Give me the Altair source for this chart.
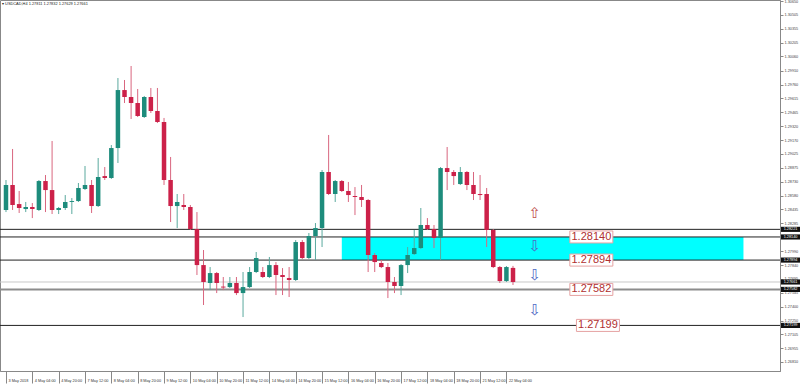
import altair as alt
import pandas as pd

# ---- candle data (USDCAD H4, bar index 0 = 3 May 2018 12:00) ----
opens = [1.28427, 1.28693, 1.28490, 1.28437, 1.28459, 1.28427, 1.28735, 1.28639, 1.28427, 1.28448,
         1.28512, 1.28522, 1.28650, 1.28693, 1.28469, 1.28788, 1.28767, 1.29086, 1.29703, 1.29629,
         1.29565, 1.29416, 1.29629, 1.29480, 1.29363, 1.28746, 1.28469, 1.28480, 1.28459, 1.28224,
         1.27841, 1.27650, 1.27756, 1.27612, 1.27607, 1.27650, 1.27543, 1.27607, 1.27767, 1.27767,
         1.27714, 1.27841, 1.27735, 1.27703, 1.27682, 1.28086, 1.27916, 1.28150, 1.28235, 1.28831,
         1.28597, 1.28735, 1.28629, 1.28576, 1.28565, 1.28533, 1.27948, 1.27863, 1.27820, 1.27661,
         1.27618, 1.27841, 1.27958, 1.28022, 1.28267, 1.28224, 1.28129, 1.28873, 1.28831, 1.28703,
         1.28831, 1.28693, 1.28597, 1.28597, 1.28214, 1.27820, 1.27671, 1.27811]
highs = [1.28746, 1.29076, 1.28629, 1.28512, 1.28501, 1.28746, 1.28799, 1.29161, 1.28459, 1.28586,
         1.28554, 1.28714, 1.28895, 1.28746, 1.28980, 1.28884, 1.29118, 1.29831, 1.29810, 1.29959,
         1.29714, 1.29640, 1.29725, 1.29725, 1.29406, 1.28991, 1.28597, 1.28597, 1.28480, 1.28405,
         1.28001, 1.27820, 1.27767, 1.27714, 1.27714, 1.27714, 1.27767, 1.27820, 1.27980, 1.27820,
         1.27927, 1.27873, 1.27809, 1.27820, 1.28107, 1.28107, 1.28182, 1.28288, 1.28852, 1.29225,
         1.28746, 1.28746, 1.28725, 1.28671, 1.28693, 1.28543, 1.27969, 1.27895, 1.27863, 1.27714,
         1.27852, 1.28033, 1.28214, 1.28448, 1.28341, 1.28267, 1.28884, 1.29097, 1.28852, 1.28884,
         1.28841, 1.28831, 1.28799, 1.28661, 1.28224, 1.27831, 1.27831, 1.27832]
lows = [1.28405, 1.28427, 1.28395, 1.28405, 1.28341, 1.28416, 1.28405, 1.28384, 1.28384, 1.28427,
        1.28384, 1.28512, 1.28639, 1.28395, 1.28459, 1.28746, 1.28757, 1.28927, 1.29565, 1.29395,
        1.29416, 1.29406, 1.29459, 1.29352, 1.28693, 1.28299, 1.28235, 1.28427, 1.28214, 1.27735,
        1.27416, 1.27575, 1.27543, 1.27575, 1.27597, 1.27522, 1.27288, 1.27597, 1.27756, 1.27703,
        1.27703, 1.27522, 1.27522, 1.27501, 1.27671, 1.27905, 1.27905, 1.27895, 1.28033, 1.28586,
        1.28512, 1.28618, 1.28512, 1.28373, 1.28459, 1.27767, 1.27767, 1.27809, 1.27490, 1.27543,
        1.27522, 1.27756, 1.27948, 1.28012, 1.28214, 1.28022, 1.27895, 1.28639, 1.28693, 1.28693,
        1.28639, 1.28533, 1.28533, 1.28033, 1.27809, 1.27650, 1.27661, 1.27629]
closes = [1.28693, 1.28480, 1.28448, 1.28459, 1.28437, 1.28735, 1.28639, 1.28427, 1.28448, 1.28512,
          1.28522, 1.28661, 1.28693, 1.28469, 1.28778, 1.28767, 1.29086, 1.29703, 1.29629, 1.29565,
          1.29427, 1.29629, 1.29480, 1.29363, 1.28746, 1.28469, 1.28512, 1.28459, 1.28224, 1.27841,
          1.27661, 1.27756, 1.27650, 1.27602, 1.27650, 1.27543, 1.27607, 1.27767, 1.27916, 1.27714,
          1.27841, 1.27735, 1.27714, 1.27682, 1.28086, 1.27916, 1.28150, 1.28235, 1.28831, 1.28597,
          1.28735, 1.28629, 1.28586, 1.28565, 1.28533, 1.27948, 1.27873, 1.27820, 1.27661, 1.27618,
          1.27841, 1.27948, 1.28022, 1.28267, 1.28224, 1.28129, 1.28873, 1.28831, 1.28788, 1.28831,
          1.28693, 1.28597, 1.28586, 1.28214, 1.27820, 1.27671, 1.27820, 1.27661]

# ---- axis labels ----
time_tick_bars = [0, 4, 8, 12, 16, 20, 24, 28, 32, 36, 40, 44, 48, 52, 56, 60, 64, 68, 72, 76]
time_tick_labels = ["3 May 2018", "4 May 04:00", "4 May 20:00", "7 May 12:00", "8 May 04:00",
                    "8 May 20:00", "9 May 12:00", "10 May 04:00", "10 May 20:00", "11 May 12:00",
                    "14 May 04:00", "14 May 20:00", "15 May 12:00", "16 May 04:00", "16 May 20:00",
                    "17 May 12:00", "18 May 04:00", "18 May 20:00", "21 May 12:00", "22 May 04:00"]
price_ticks = [1.30650, 1.30505, 1.30355, 1.30205, 1.30060, 1.29910, 1.29760, 1.29615, 1.29465,
               1.29320, 1.29170, 1.29025, 1.28875, 1.28730, 1.28580, 1.28435, 1.28285, 1.27990,
               1.27840, 1.27695, 1.27545, 1.27400, 1.27250, 1.27105, 1.26955, 1.26810, 1.26660]

# ---- horizontal levels ----
level_prices = [1.28221, 1.28140, 1.27894, 1.27661, 1.27582, 1.27199]
level_colors = ["#222222", "#222222", "#222222", "#c8c8c8", "#8c8c8c", "#222222"]
level_widths = [1, 1, 1, 1, 2, 1]
level_box_text = ["1.28221", "1.28140", "1.27894", "1.27661", "1.27582", "1.27199"]

# ---- zone ----
zone_top = [1.28140]
zone_bottom = [1.27894]
zone_start = [51.0]
zone_end = [112.0]

# ---- callouts ----
callout_prices = [1.28140, 1.27894, 1.27582, 1.27199]
callout_text = ["1.28140", "1.27894", "1.27582", "1.27199"]
callout_bars = [88.9, 88.9, 88.9, 89.9]

arrow_prices = [1.28395, 1.28044, 1.27735, 1.27363]
arrow_glyphs = ["⇧", "⇩", "⇩", "⇩"]
arrow_colors = ["#c0504d", "#4f6bc4", "#4f6bc4", "#4f6bc4"]
arrow_bars = [80.3, 80.3, 80.3, 80.3]

header = "▾ USDCAD,H4 1.27811 1.27832 1.27629 1.27661"

# ---- tables ----
candles = pd.DataFrame({
    "i": list(range(len(opens))),
    "open": opens, "high": highs, "low": lows, "close": closes,
})
candles["col"] = ["#1d8c7c" if c >= o else "#cc2149" for o, c in zip(opens, closes)]
candles["wcol"] = ["#5aa99e" if c >= o else "#d9667f" for o, c in zip(opens, closes)]

levels = pd.DataFrame({"p": level_prices, "c": level_colors, "w": level_widths, "t": level_box_text})
zone = pd.DataFrame({"top": zone_top, "bottom": zone_bottom, "x1": zone_start, "x2": zone_end})
callouts = pd.DataFrame({"p": callout_prices, "t": callout_text, "x": callout_bars})
arrows = pd.DataFrame({"p": arrow_prices, "g": arrow_glyphs, "c": arrow_colors, "x": arrow_bars})

x_scale = alt.Scale(domain=[-0.15, 116.79], nice=False, zero=False)
y_scale = alt.Scale(domain=[1.26714, 1.30661], nice=False, zero=False)

label_array = "[" + ",".join("'" + s + "'" for s in time_tick_labels) + "]"

x_axis = alt.Axis(values=time_tick_bars, labelExpr=label_array + "[round(datum.value/4)]",
                  tickSize=12, labelPadding=-5, labelAlign="left", labelBaseline="top", labelOffset=2,
                  labelFontSize=3.8, labelFont="Liberation Sans", labelColor="#333333",
                  domainColor="#888888", tickColor="#888888", grid=False, title=None,
                  labelOverlap=False, labelFlush=False)
y_axis = alt.Axis(orient="right", values=price_ticks, format=".5f", tickSize=3, labelPadding=1,
                  labelFontSize=3.8, labelFont="Liberation Sans", labelColor="#444444",
                  domainColor="#888888", tickColor="#888888", grid=False, title=None,
                  labelOverlap=False, labelFlush=False, labelBound=False)


def X(f):
    return alt.X(f, scale=x_scale, axis=x_axis)


def Y(f):
    return alt.Y(f, scale=y_scale, axis=y_axis)


zone_layer = alt.Chart(zone).mark_rect(color="#00ffff", opacity=1).encode(
    x=X("x1:Q"), x2="x2:Q", y=Y("top:Q"), y2="bottom:Q")

level_layer = alt.Chart(levels).mark_rule().encode(
    y=Y("p:Q"),
    color=alt.Color("c:N", scale=None),
    strokeWidth=alt.StrokeWidth("w:Q", scale=None))

wick_layer = alt.Chart(candles).mark_rule(strokeWidth=1).encode(
    x=X("i:Q"), y=Y("low:Q"), y2="high:Q",
    color=alt.Color("wcol:N", scale=None))

body_layer = alt.Chart(candles).mark_bar(size=4.5).encode(
    x=X("i:Q"), y=Y("open:Q"), y2="close:Q",
    color=alt.Color("col:N", scale=None))

arrow_layer = alt.Chart(arrows).mark_text(font="DejaVu Sans", fontSize=15, baseline="middle").encode(
    x=X("x:Q"), y=Y("p:Q"),
    text="g:N", color=alt.Color("c:N", scale=None))

box_path = "M-1,-0.28L1,-0.28L1,0.28L-1,0.28Z"
callout_box = alt.Chart(callouts).mark_point(
    shape=box_path, size=1849, filled=True, fill="#ffffff", stroke="#e6a3a3",
    strokeWidth=1, opacity=1, fillOpacity=1).encode(
    x=X("x:Q"), y=Y("p:Q"))
callout_text_layer = alt.Chart(callouts).mark_text(
    font="Liberation Sans", fontSize=11, color="#b03030", baseline="middle").encode(
    x=X("x:Q"), y=Y("p:Q"), text="t:N")

axis_box = alt.Chart(levels).mark_point(
    shape="M-1,-0.27L1,-0.27L1,0.27L-1,0.27Z", size=361, filled=True, fill="#111111",
    opacity=1, fillOpacity=1, strokeWidth=0).encode(
    x=alt.value(790.5), y=Y("p:Q"))
axis_box_text = alt.Chart(levels).mark_text(
    font="Liberation Sans", fontSize=3.8, color="#ffffff", baseline="middle").encode(
    x=alt.value(790.5), y=Y("p:Q"), text="t:N")

header_layer = alt.Chart(pd.DataFrame({"t": [header]})).mark_text(
    font="Liberation Sans", fontSize=3.9, color="#222222", align="left", baseline="middle").encode(
    x=alt.value(2), y=alt.value(4), text="t:N")

chart = alt.layer(
    zone_layer, level_layer, wick_layer, body_layer, arrow_layer,
    callout_box, callout_text_layer, axis_box, axis_box_text, header_layer
).properties(
    width=780, height=371,
    autosize=alt.AutoSizeParams(type="none"),
    padding={"left": 0, "top": 0, "right": 20, "bottom": 16},
    background="#ffffff",
).configure_view(stroke="#888888", strokeWidth=1)

chart.save("out.html", embed_options={"renderer": "svg", "actions": False})
